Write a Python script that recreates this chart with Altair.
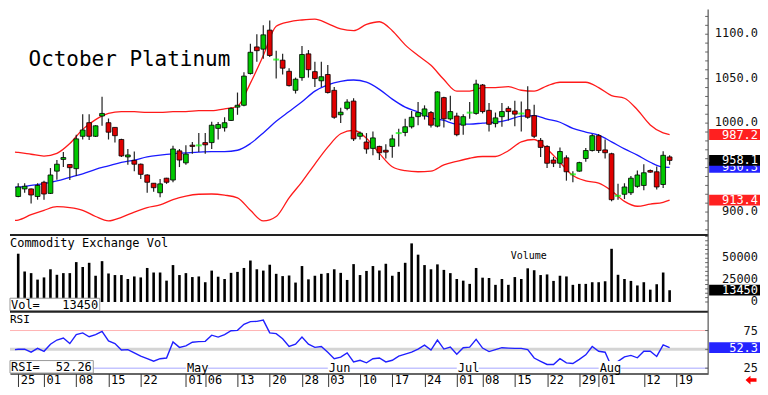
import altair as alt
import pandas as pd

# ---------------- data ----------------
opens = [917.5, 926.0, 926.0, 917.5, 933.5, 921.0, 946.0, 959.2, 953.5, 948.8,
         985.2, 1000.5, 985.2, 1008.0, 1000.5, 995.2, 981.6, 962.0, 958.1, 953.8,
         941.7, 932.4, 921.7, 938.1, 936.0, 968.8, 955.3, 975.2, 975.0, 978.1,
         978.1, 994.1, 994.8, 1003.0, 1018.0, 1020.1, 1055.8, 1085.7, 1083.2, 1104.6,
         1071.5, 1070.8, 1058.3, 1036.9, 1051.2, 1077.9, 1057.9, 1047.6, 1054.7, 1036.9,
         1009.4, 1016.6, 1024.8, 985.2, 978.8, 971.6, 973.8, 969.5, 973.8, 988.8,
         989.5, 995.9, 1007.3, 1008.0, 1011.9, 996.6, 1028.7, 1004.8, 1008.0, 997.7,
         1011.8, 1010.9, 1042.9, 1014.4, 999.5, 1007.3, 1016.6, 1013.7, 1010.8, 1015.1,
         1008.4, 980.6, 973.8, 958.5, 954.9, 961.0, 942.4, 946.0, 960.2, 969.2,
         985.9, 969.9, 965.6, 918.2, 920.0, 921.7, 928.9, 929.9, 946.7, 945.3,
         931.0, 962.0]
highs = [932.4, 932.4, 926.4, 932.4, 935.3, 949.5, 958.5, 967.4, 953.5, 987.0,
         1010.1, 1010.1, 997.7, 1029.8, 1005.2, 995.2, 982.3, 970.9, 968.1, 954.5,
         942.4, 932.4, 937.1, 938.5, 974.5, 970.9, 975.2, 978.8, 988.8, 988.8,
         1001.6, 1001.2, 1006.6, 1018.0, 1034.4, 1057.2, 1089.3, 1100.0, 1110.0, 1115.3,
         1081.5, 1077.9, 1061.8, 1051.2, 1086.8, 1082.2, 1069.0, 1069.0, 1065.4, 1040.5,
         1017.3, 1026.9, 1028.0, 990.5, 988.8, 990.5, 974.5, 976.3, 987.0, 993.8,
         1004.8, 1013.7, 1023.7, 1020.0, 1013.7, 1035.8, 1029.8, 1030.8, 1011.6, 1010.1,
         1023.7, 1048.7, 1044.0, 1022.6, 1011.9, 1022.6, 1019.1, 1025.1, 1024.4, 1041.5,
         1020.8, 983.4, 975.2, 962.0, 972.7, 963.8, 946.0, 956.7, 972.0, 987.7,
         987.7, 981.6, 966.7, 931.7, 932.4, 940.6, 946.7, 953.8, 947.8, 951.3,
         968.5, 963.8]
lows = [916.7, 921.7, 909.6, 913.9, 913.9, 920.3, 936.4, 950.6, 936.0, 940.6,
        981.6, 980.9, 984.5, 997.0, 981.6, 978.1, 962.0, 953.1, 946.0, 937.1,
        921.7, 922.8, 916.7, 931.7, 933.5, 950.6, 953.1, 965.6, 967.4, 965.6,
        970.9, 981.6, 990.5, 1002.3, 1009.4, 1019.1, 1054.7, 1069.0, 1072.5, 1074.3,
        1050.1, 1054.7, 1041.2, 1033.3, 1047.6, 1051.2, 1040.5, 1040.5, 1033.3, 1004.8,
        1000.2, 1014.4, 979.9, 981.6, 965.6, 963.8, 958.5, 960.2, 961.0, 973.8,
        985.2, 994.1, 997.7, 1004.0, 995.2, 995.2, 995.2, 1003.0, 985.2, 987.0,
        1004.8, 1009.4, 1010.9, 990.5, 995.2, 995.9, 1003.0, 996.6, 990.5, 1004.8,
        983.4, 962.0, 949.5, 950.6, 949.5, 935.3, 933.5, 945.3, 956.7, 968.1,
        966.3, 960.2, 912.1, 913.9, 914.6, 919.2, 927.4, 924.6, 944.2, 925.3,
        927.1, 953.1]
closes = [928.2, 929.0, 919.2, 929.9, 920.3, 941.7, 953.8, 961.3, 949.9, 982.3,
          992.3, 985.2, 997.0, 1010.9, 989.8, 985.9, 963.1, 964.2, 953.8, 942.4,
          933.5, 927.4, 931.7, 933.5, 970.9, 958.5, 965.2, 973.8, 975.0, 975.6,
          997.7, 998.4, 1000.5, 1016.6, 1020.1, 1052.9, 1079.7, 1081.5, 1099.3, 1076.1,
          1071.5, 1061.8, 1042.2, 1049.4, 1077.2, 1060.1, 1050.1, 1052.2, 1034.4, 1006.6,
          1012.3, 1023.7, 982.3, 988.8, 970.9, 983.4, 966.7, 967.4, 982.3, 988.8,
          995.9, 1006.6, 1011.9, 1016.0, 997.7, 1035.1, 1004.8, 1013.0, 987.0, 1007.3,
          1011.8, 1044.0, 1013.0, 998.7, 1005.9, 1013.0, 1013.0, 1010.1, 1010.8, 1006.6,
          985.2, 972.7, 954.9, 954.9, 968.1, 945.3, 942.4, 955.6, 969.2, 985.9,
          969.2, 966.7, 913.9, 918.2, 928.2, 938.1, 941.7, 944.2, 944.9, 928.2,
          963.8, 958.1]
volumes = [55200, 34800, 33000, 25600, 28100, 37400, 31100, 33000, 33000, 45600,
           40000, 44800, 30000, 46700, 32600, 30800, 30800, 26300, 29200, 28100,
           38900, 33700, 33700, 24400, 42200, 30800, 33000, 28500, 29200, 22600,
           35900, 28900, 26300, 33300, 34400, 38900, 47400, 37400, 35900, 42600,
           32200, 29600, 30300, 22200, 41100, 25900, 30000, 32200, 33000, 37400,
           33300, 25200, 43300, 30800, 35500, 41100, 36000, 43700, 30000, 34400,
           44800, 67000, 54100, 42200, 37400, 43000, 36700, 33000, 26300, 24400,
           20700, 38900, 27800, 27400, 19600, 26300, 19600, 28500, 26300, 38500,
           36300, 30800, 31500, 24100, 30000, 29200, 19600, 20700, 20700, 22600,
           22600, 23700, 60800, 31100, 26300, 24100, 18900, 22600, 14100, 20300,
           33700, 13450]
rsi_x = [-0.5] + list(range(102))
rsi_vals = [49.6, 50.2, 50.3, 46.2, 51.3, 47.4, 56.8, 62.4, 65.0, 57.7, 69.6,
            71.8, 66.7, 69.6, 74.0, 61.2, 57.7, 49.1, 49.6, 45.3, 41.0,
            37.6, 34.2, 37.6, 38.5, 59.9, 52.6, 54.7, 59.5, 60.3, 60.6,
            68.8, 66.3, 69.6, 74.7, 75.2, 83.3, 86.8, 87.2, 88.8, 71.8,
            70.9, 64.1, 53.8, 56.8, 66.3, 56.8, 52.6, 53.8, 46.2, 37.6,
            39.7, 45.3, 33.3, 35.5, 32.1, 37.6, 38.5, 33.3, 35.5, 41.0,
            43.6, 46.2, 50.4, 55.5, 49.1, 62.4, 50.4, 53.0, 43.6, 52.2,
            53.0, 63.2, 51.7, 47.0, 49.6, 52.2, 51.7, 51.3, 51.3, 49.6,
            38.5, 34.2, 29.9, 29.9, 37.6, 32.1, 31.2, 36.8, 42.7, 53.8,
            47.4, 46.2, 27.0, 34.0, 40.0, 42.0, 38.8, 47.4, 47.4, 40.6,
            56.0, 52.26]
band_x = [-0.5] + list(range(0, 101, 2)) + [101]
upper = [967.4, 967, 965, 963, 966, 977, 993, 1004, 1011, 1013, 1013, 1012, 1012, 1013,
         1013, 1014, 1014, 1016, 1019, 1045, 1076, 1109, 1114, 1116, 1117, 1112, 1106,
         1104, 1111, 1114, 1104, 1088, 1076, 1065, 1049, 1036, 1036, 1040, 1040, 1041,
         1037, 1036, 1042, 1046, 1046, 1046, 1040, 1031, 1028, 1015, 998, 989, 987.2]
middle = [928.1, 928, 930, 932, 935, 939, 943, 948, 952, 956, 958.5, 962, 964, 965.5,
          966.5, 967.5, 968, 968, 969.5, 977, 989, 1002, 1013, 1024, 1036, 1043, 1047,
          1048.5, 1046, 1038, 1027, 1018, 1012.5, 1006, 1003, 999, 999, 1000, 1001,
          1003.7, 1008, 1008.5, 1004.5, 1001, 994, 990, 986.5, 979, 971, 964, 956,
          950.5, 950.3]
lower = [890.7, 891, 897, 902, 906, 905, 902, 895, 890, 894, 900, 905, 908, 914, 918,
         920, 920.3, 919, 916, 902, 890, 895, 916, 934, 954, 973, 988, 992, 983, 966,
         951, 946.5, 945.3, 946, 953, 957, 960.5, 962.5, 962.5, 969, 979, 981.6, 971,
         956, 941, 935, 932.5, 924, 912, 906.5, 909, 911, 913.4]
tick_idx = [0, 4, 9, 14, 19, 26, 29, 34, 39, 44, 48, 53, 58, 63, 68, 72, 77, 82, 87, 90, 97, 102]
tick_lbl = ["25", "01", "08", "15", "22", "01", "06", "13", "20", "28", "03",
            "10", "17", "24", "01", "08", "15", "22", "29", "01", "12", "19"]
month_idx = [26, 48, 68, 90]
month_lbl = ["May", "Jun", "Jul", "Aug"]
price_ticks = list(range(880, 1130, 10))
price_labels = [900, 1000, 1050, 1100]
vol_ticks = list(range(0, 80000, 5000))
vol_labels = [0, 25000, 50000]
rsi_ticks = [25, 50, 75]
rsi_labels = [25, 75]
rsi_levels = [75, 50, 25]
badge_price_lbl = ["987.2", "950.3", "913.4"]
badge_price_val = [987.2, 950.3, 913.4]
badge_price_col = ["#ff2020", "#2424ff", "#ff2020"]
last_price_lbl, last_price_val = "958.1", 958.1
last_vol_lbl, last_vol_val = "13450", 13450
last_rsi_lbl, last_rsi_val = "52.3", 52.3
rsi_readout = "52.26"

# ---------------- layout ----------------
W, PH, VH, RH = 700, 226, 77, 62
VT = PH            # top of volume panel
RT = PH + VH       # top of RSI panel
H = PH + VH + RH
MONO = "DejaVu Sans Mono"
GREEN, RED = "#00c800", "#e00000"
BADGE = "M-1,-0.212H1V0.212H-1Z"
ARROW = "M-1,0L-0.1,-0.8L-0.1,-0.3L1,-0.3L1,0.3L-0.1,0.3L-0.1,0.8Z"

xs = alt.Scale(domain=[-0.5, 106.2], nice=False, zero=False)
ps = alt.Scale(domain=[874.3, 1127.8], range=[PH, 0], nice=False, zero=False)
vs = alt.Scale(domain=[-11100, 76700], range=[VT + VH, VT], nice=False, zero=False)
rs = alt.Scale(domain=[17.9, 100], range=[H, RT], nice=False, zero=False)

lbl_expr = ("[" + ",".join(f"'{s}'" for s in tick_lbl) + "][indexof([" +
            ",".join(str(t) for t in tick_idx) + "], datum.value)]")
x_axis = alt.Axis(orient="bottom", values=tick_idx, labelExpr=lbl_expr, tickSize=13, tickColor="#333",
                  tickWidth=1, labelAlign="left", labelBaseline="top", labelPadding=-12, labelOffset=2,
                  labelFont=MONO, labelFontSize=12, labelColor="#000", domainColor="#333", domainWidth=1.5,
                  labelOverlap=False, labelFlush=False, grid=False, title=None)
XA = alt.X("i:Q", scale=xs, axis=x_axis)
one = pd.DataFrame({"k": [0]})


def Y(field, scale):
    return alt.Y(f"{field}:Q", scale=scale, axis=None)


def text_at(t, x, y, size=12, align="left"):
    return alt.Chart(pd.DataFrame({"t": [t]})).mark_text(
        align=align, baseline="alphabetic", font=MONO, fontSize=size, color="#000").encode(
        text="t:N", x=alt.value(x), y=alt.value(y))


def right_axis(ticks, labels, fmt, scale, dy=0):
    tdf = pd.DataFrame({"v": ticks})
    ldf = pd.DataFrame({"v": labels, "lbl": [format(v, fmt) for v in labels]})
    tk = alt.Chart(tdf).mark_rule(color="#666", strokeWidth=1).encode(
        x=alt.value(W - 3), x2=alt.value(W), y=Y("v", scale))
    lb = alt.Chart(ldf).mark_text(align="right", baseline="middle", font=MONO, fontSize=12,
                                  color="#111", dy=dy).encode(x=alt.value(W + 50), y=Y("v", scale), text="lbl:N")
    return tk + lb


def badges(df, scale):
    rect = alt.Chart(df).mark_point(shape=BADGE, size=51 ** 2, filled=True, opacity=1, strokeWidth=0).encode(
        x=alt.value(W + 26.5), y=Y("v", scale), color=alt.Color("col:N", scale=None))
    txt = alt.Chart(df).mark_text(align="right", baseline="middle", font=MONO, fontSize=12, color="white").encode(
        x=alt.value(W + 50), y=Y("v", scale), text="lbl:N")
    return rect + txt


# ---------------- price panel ----------------
candles = pd.DataFrame({"i": range(len(opens)), "o": opens, "h": highs, "l": lows, "c": closes})
candles["dir"] = ["up" if c > o else ("down" if c < o else "doji") for o, c in zip(opens, closes)]
bands = pd.DataFrame({"i": band_x, "up": upper, "mid": middle, "lo": lower})

up_line = alt.Chart(bands).mark_line(color="#ff1a1a", strokeWidth=1.3, interpolate="monotone").encode(
    x=XA, y=Y("up", ps))
lo_line = alt.Chart(bands).mark_line(color="#ff1a1a", strokeWidth=1.3, interpolate="monotone").encode(
    x=XA, y=Y("lo", ps))
mid_line = alt.Chart(bands).mark_line(color="#1a1aff", strokeWidth=1.3, interpolate="monotone").encode(
    x=XA, y=Y("mid", ps))
wicks = alt.Chart(candles).mark_rule(color="#222", strokeWidth=1.2).encode(
    x=XA, y=Y("l", ps), y2="h:Q")
bodies = alt.Chart(candles).transform_filter("datum.dir != 'doji'").mark_bar(
    width=4.8, stroke="#000", strokeWidth=0.8).encode(
    x=XA, y=Y("o", ps), y2="c:Q",
    color=alt.Color("dir:N", scale=alt.Scale(domain=["up", "down"], range=[GREEN, RED]), legend=None))
dojis = alt.Chart(candles).transform_filter("datum.dir == 'doji'").mark_tick(
    orient="horizontal", color="#00ff00", size=6, thickness=2).encode(x=XA, y=Y("c", ps))
pb = pd.DataFrame({"lbl": badge_price_lbl, "v": badge_price_val, "col": badge_price_col})
pb_last = pd.DataFrame({"lbl": [last_price_lbl], "v": [last_price_val], "col": ["#000000"]})

price = alt.layer(up_line, lo_line, mid_line, wicks, bodies, dojis,
                  right_axis(price_ticks, price_labels, ".1f", ps, dy=-1),
                  badges(pb, ps), badges(pb_last, ps))

# ---------------- volume panel ----------------
vdf = pd.DataFrame({"i": range(len(volumes)), "v": volumes})
vbars = alt.Chart(vdf).mark_bar(width=2.6, color="#000").encode(
    x=XA, y=Y("v", vs), y2=alt.datum(0))
vb = pd.DataFrame({"lbl": [last_vol_lbl], "v": [last_vol_val], "col": ["#000000"]})
vbox = alt.Chart(one).mark_rect(fill="white", stroke="#999", strokeWidth=1).encode(
    x=alt.value(0), x2=alt.value(90), y=alt.value(VT + 63.5), y2=alt.value(VT + 76))
volume = alt.layer(vbars, vbox, right_axis(vol_ticks, vol_labels, "d", vs, dy=-1), badges(vb, vs))

# ---------------- RSI panel ----------------
lv = pd.DataFrame({"v": rsi_levels, "col": ["#ffb4b4", "#d4d4d4", "#c4c4ff"], "w": [1, 3, 1.5]})
levels = alt.Chart(lv).mark_rule().encode(
    y=Y("v", rs), color=alt.Color("col:N", scale=None), strokeWidth=alt.StrokeWidth("w:Q", scale=None))
rdf = pd.DataFrame({"i": rsi_x, "r": rsi_vals})
rline = alt.Chart(rdf).mark_line(color="#2020ff", strokeWidth=1.4).encode(x=XA, y=Y("r", rs))
rb = pd.DataFrame({"lbl": [last_rsi_lbl], "v": [last_rsi_val], "col": ["#2424ff"]})
rsi = alt.layer(levels, rline, right_axis(rsi_ticks, rsi_labels, "d", rs), badges(rb, rs))

# ---------------- annotations (fixed pixel layout) ----------------
mdf = pd.DataFrame({"i": month_idx, "lbl": month_lbl})
mbox = alt.Chart(mdf).transform_calculate(i2="datum.i + 3.4").mark_rect(fill="white").encode(
    x=XA, x2="i2:Q", y=alt.value(RT + 49.5), y2=alt.value(RT + 61))
mtext = alt.Chart(mdf).mark_text(align="left", baseline="alphabetic", font=MONO, fontSize=12,
                                 color="#000", dx=1).encode(x=XA, y=alt.value(RT + 60), text="lbl:N")
rbox = alt.Chart(one).mark_rect(fill="white", stroke="#999", strokeWidth=1).encode(
    x=alt.value(0), x2=alt.value(83.5), y=alt.value(RT + 49), y2=alt.value(RT + 61.5))
seps = alt.Chart(pd.DataFrame({"y": [PH, RT]})).mark_rule(color="#222", strokeWidth=2).encode(
    x=alt.value(0), x2=alt.value(W), y=alt.Y("y:Q", scale=None, axis=None))
vaxis = alt.Chart(one).mark_rule(color="#555", strokeWidth=1.2).encode(
    x=alt.value(W), y=alt.value(0), y2=alt.value(H))
arrow = alt.Chart(one).mark_point(shape=ARROW, size=121, filled=True, opacity=1, color="#ff0000",
                                  strokeWidth=0).encode(x=alt.value(W + 43), y=alt.value(H + 6.5))

notes = alt.layer(
    mbox, mtext, rbox, seps, vaxis, arrow,
    text_at("October Platinum", 18.6, 56.7, size=21),
    text_at("Commodity Exchange Vol", 0, VT + 12),
    text_at("Volume", 502, VT + 24, size=10),
    text_at("Vol=", 1, VT + 74),
    text_at(last_vol_lbl, 88.5, VT + 74, align="right"),
    text_at("RSI", 0, RT + 11, size=11),
    text_at("RSI=", 1, RT + 59.5),
    text_at(rsi_readout, 82, RT + 59.5, align="right"),
)

chart = alt.layer(price, volume, rsi, notes).resolve_scale(y="independent").properties(
    width=W, height=H, padding=0).configure_view(stroke=None)

chart.save("out.html", embed_options={"renderer": "svg", "actions": False})
